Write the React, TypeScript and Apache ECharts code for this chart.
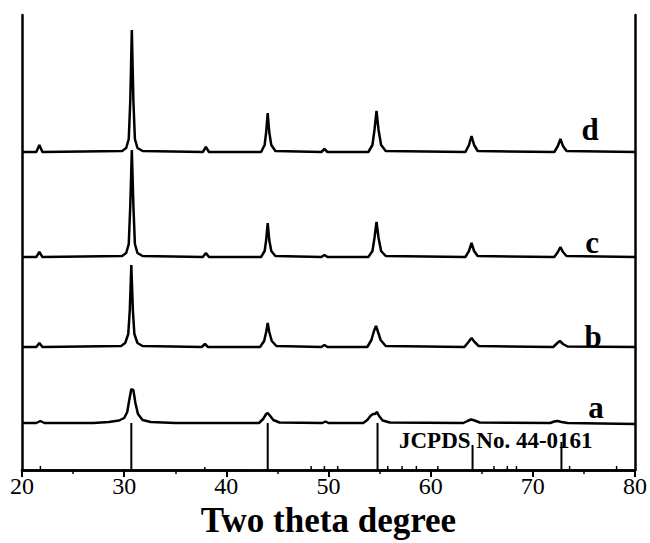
import React, { useEffect, useRef } from "react";
import * as echarts from "echarts";

// 2θ (degree) vs intensity (a.u., stacked offsets as drawn)
const curveA: number[][] = [
  [20, 47], [21.4, 47], [21.8, 49], [22.2, 47], [27, 47], [28.5, 48], [29.5, 49.5], [30.0, 52],
  [30.3, 58], [30.5, 70], [30.7, 81], [30.9, 80], [31.1, 67], [31.35, 56], [31.8, 50], [32.6, 48],
  [35, 47], [43.2, 47], [43.6, 51], [43.9, 56], [44.05, 57], [44.3, 54], [44.6, 50], [45.2, 47.5],
  [49.4, 47], [49.7, 48.5], [50.0, 47], [53.4, 47], [53.8, 50], [54.1, 54], [54.35, 56], [54.55, 56],
  [54.75, 58], [54.95, 54], [55.3, 49.5], [56, 47.5], [63.2, 47], [63.6, 49], [63.95, 50.5],
  [64.3, 49.5], [64.8, 47.5], [71.7, 47], [72.1, 48.5], [72.4, 49], [72.8, 48], [73.4, 47], [80, 46]
];

const curveB: number[][] = [
  [20, 123], [21.4, 123], [21.7, 127], [22.0, 123], [29.7, 124], [30.1, 127], [30.4, 136],
  [30.55, 160], [30.7, 205], [30.85, 160], [31.0, 136], [31.3, 127], [31.8, 124], [37.6, 123],
  [37.9, 126], [38.2, 123], [43.3, 123], [43.7, 129], [43.9, 138], [44.05, 147], [44.2, 138],
  [44.45, 129], [44.9, 124], [49.3, 123], [49.6, 125], [49.9, 123], [53.8, 123], [54.2, 130],
  [54.45, 139], [54.65, 144], [54.85, 138], [55.1, 130], [55.6, 124], [63.3, 123], [63.7, 128],
  [64.0, 132], [64.3, 128], [64.7, 124], [72.0, 123], [72.4, 127], [72.65, 129], [72.95, 126],
  [73.4, 123.5], [80, 123]
];

const curveC: number[][] = [
  [20, 213], [21.4, 213], [21.7, 218], [22.0, 213], [29.8, 214], [30.2, 217], [30.45, 226],
  [30.6, 265], [30.75, 320], [30.9, 265], [31.05, 226], [31.3, 217], [31.8, 214], [37.7, 213],
  [38.0, 217], [38.3, 213], [43.4, 213], [43.75, 219], [43.9, 230], [44.05, 247], [44.2, 230],
  [44.4, 219], [44.8, 214], [49.3, 213], [49.6, 215], [49.9, 213], [53.9, 213], [54.3, 219],
  [54.5, 232], [54.7, 248], [54.9, 232], [55.15, 219], [55.6, 214], [63.4, 213], [63.75, 219],
  [64.0, 227], [64.25, 219], [64.6, 214], [72.1, 213], [72.45, 218], [72.7, 223], [72.95, 218],
  [73.3, 214], [80, 213]
];

const curveD: number[][] = [
  [20, 318], [21.4, 318], [21.7, 325], [22.0, 318], [29.8, 319], [30.2, 322], [30.45, 331],
  [30.6, 370], [30.75, 440], [30.9, 370], [31.05, 331], [31.3, 322], [31.8, 319], [37.7, 318],
  [38.0, 323], [38.3, 318], [43.4, 318], [43.75, 325], [43.9, 338], [44.05, 357], [44.2, 338],
  [44.4, 325], [44.8, 319], [49.3, 318], [49.6, 321], [49.9, 318], [53.9, 318], [54.3, 325],
  [54.5, 340], [54.7, 359], [54.9, 340], [55.15, 325], [55.6, 319], [63.4, 318], [63.75, 325],
  [64.0, 334], [64.25, 325], [64.6, 319], [72.1, 318], [72.45, 324], [72.7, 331], [72.95, 324],
  [73.3, 319], [80, 318]
];

// JCPDS No. 44-0161 reference lines
const jcpdsStrongPos: number[] = [30.7, 44.05, 54.8, 64.1, 72.8];
const jcpdsStrongHeight: number[] = [47, 47, 47, 25, 28];
const jcpdsWeakPos: number[] = [21.8, 37.9, 48.3, 49.6, 50.9, 55.8, 57.2, 58.6, 60.7, 66.2, 67.5, 68.4, 73.6, 78.2];
const jcpdsWeakHeight: number[] = [4, 3, 4, 4, 4, 4, 4, 4, 4, 4, 4, 4, 4, 4];

const curveLabels: string[] = ["a", "b", "c", "d"];
const xTitle = "Two theta degree";
const refTitle = "JCPDS No. 44-0161";

const FONT = "Liberation Serif";

export default function App() {
  const ref = useRef<HTMLDivElement>(null);
  useEffect(() => {
    if (!ref.current) return;
    const chart = echarts.init(ref.current, undefined, { renderer: "svg" });
    const stickRender = (lw: number) => (params: any, api: any) => {
      const p0 = api.coord([api.value(0), 0]);
      const p1 = api.coord([api.value(0), api.value(1)]);
      return {
        type: "line",
        shape: { x1: p0[0], y1: p0[1], x2: p1[0], y2: p1[1] },
        style: { stroke: "#000", lineWidth: lw },
      };
    };
    const lineSeries = (data: number[][]) => ({
      type: "line",
      data,
      showSymbol: false,
      symbol: "none",
      lineStyle: { color: "#000", width: 2.5 },
      xAxisIndex: 0,
      yAxisIndex: 0,
      z: 3,
    });
    const labelPos = [
      { x: 596, y: 407 },
      { x: 593, y: 336 },
      { x: 592, y: 242 },
      { x: 590, y: 129 },
    ];
    chart.setOption({
      animation: false,
      textStyle: { fontFamily: FONT, color: "#000" },
      grid: { left: 22, right: 14, top: 15, bottom: 73, show: false },
      xAxis: [
        {
          type: "value", min: 20, max: 80, interval: 10, position: "bottom",
          axisLine: { show: true, lineStyle: { color: "#000", width: 2.5 } },
          axisTick: { show: true, inside: false, length: 7, lineStyle: { color: "#000", width: 2 } },
          minorTick: { show: true, splitNumber: 2, length: 4, lineStyle: { color: "#000", width: 1.5 } },
          axisLabel: { color: "#000", fontFamily: FONT, fontWeight: "normal", fontSize: 24, margin: 4 },
          splitLine: { show: false },
          minorSplitLine: { show: false },
          name: xTitle, nameLocation: "middle", nameGap: 28,
          nameTextStyle: { color: "#000", fontFamily: FONT, fontSize: 35, fontWeight: "bold" },
        },
        {
          type: "value", min: 20, max: 80, interval: 5, position: "top",
          axisLine: { show: true, lineStyle: { color: "#000", width: 2.5 } },
          axisTick: { show: true, inside: true, length: 2, lineStyle: { color: "#000", width: 1 } },
          axisLabel: { show: false },
          splitLine: { show: false },
        },
      ],
      yAxis: [
        {
          type: "value", min: 0, max: 455, position: "left",
          axisLine: { show: true, lineStyle: { color: "#000", width: 2.5 } },
          axisTick: { show: false }, axisLabel: { show: false }, splitLine: { show: false },
        },
        {
          type: "value", min: 0, max: 455, position: "right",
          axisLine: { show: true, lineStyle: { color: "#000", width: 2.5 } },
          axisTick: { show: false }, axisLabel: { show: false }, splitLine: { show: false },
        },
      ],
      series: [
        {
          type: "custom", xAxisIndex: 0, yAxisIndex: 0, z: 2,
          data: jcpdsStrongPos.map((x, i) => [x, jcpdsStrongHeight[i]]),
          renderItem: stickRender(2),
        },
        {
          type: "custom", xAxisIndex: 0, yAxisIndex: 0, z: 2,
          data: jcpdsWeakPos.map((x, i) => [x, jcpdsWeakHeight[i]]),
          renderItem: stickRender(1.5),
        },
        lineSeries(curveA),
        lineSeries(curveB),
        lineSeries(curveC),
        lineSeries(curveD),
      ],
      graphic: [
        ...curveLabels.map((t, i) => ({
          type: "text",
          x: labelPos[i].x,
          y: labelPos[i].y,
          style: {
            text: t, fill: "#000", font: `bold 31px "${FONT}"`,
            textAlign: "center", textVerticalAlign: "middle",
          },
          z: 10,
        })),
        {
          type: "text", x: 399, y: 440,
          style: {
            text: refTitle, fill: "#000", font: `bold 23px "${FONT}"`,
            textAlign: "left", textVerticalAlign: "middle",
          },
          z: 10,
        },
      ],
    });
    return () => chart.dispose();
  }, []);
  return (
    <div
      ref={ref}
      style={{ position: "fixed", left: 0, top: 0, width: 650, height: 543, background: "#fff" }}
    />
  );
}
